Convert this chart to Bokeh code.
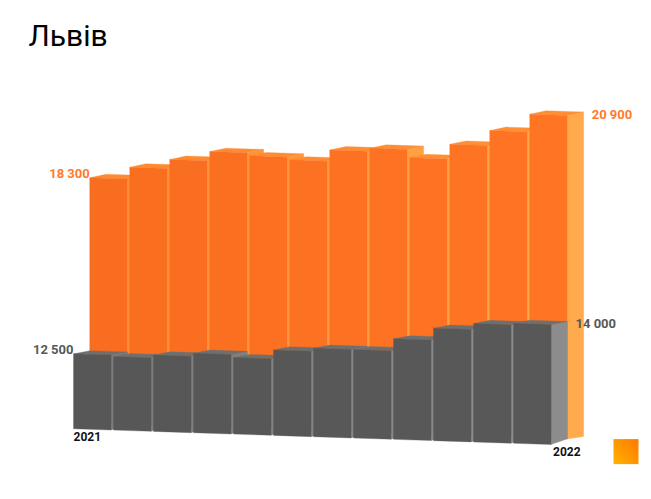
import numpy as np
from bokeh.core.properties import value
from bokeh.embed import file_html
from bokeh.models import ColumnDataSource, Label
from bokeh.plotting import figure
from bokeh.resources import INLINE

# monthly values, 2021 -> 2022
orange_values = [18300, 18690, 18995, 19300, 19200, 19105, 19485, 19585, 19315, 19805, 20310, 20900]
grey_values = [12500, 12450, 12550, 12650, 12550, 12850, 12950, 12950, 13350, 13750, 13950, 14000]
year_labels = ["2021", "2022"]

# the fake 3d look: everything is sheared a bit along the floor
FLOOR = 10000
SKEW = 44
BAR_W = 0.94
DEPTH = 0.41
ORANGE_DX = 0.405
ORANGE_DY = 90


def fmt(v):
    return f"{v:,}".replace(",", " ")


def mix(a, b, t):
    a = [int(a[i:i + 2], 16) for i in (1, 3, 5)]
    b = [int(b[i:i + 2], 16) for i in (1, 3, 5)]
    return "#%02x%02x%02x" % tuple(round(u + (v - u) * t) for u, v in zip(a, b))


def bars(values, x_off, y_off, lift, up_top, up_bottom, front, side, top):
    """Faces of each bar, painted left to right so later bars cover the side of earlier ones."""
    xs, ys, colors = [], [], []
    n = len(values)
    for i, v in enumerate(values):
        x0 = i + x_off
        x1 = x0 + BAR_W
        t = i / (n - 1)
        y_top = lambda x: v + y_off - SKEW * x
        y_bot = lambda x: FLOOR + y_off + lift - SKEW * x
        # side
        xs.append([x1, x1 + DEPTH, x1 + DEPTH, x1])
        ys.append([y_top(x1), y_top(x1) + up_top, y_bot(x1) + up_bottom, y_bot(x1)])
        colors.append(mix(side[0], side[1], t))
        # top
        xs.append([x0, x0 + DEPTH, x1 + DEPTH, x1])
        ys.append([y_top(x0), y_top(x0) + up_top, y_top(x1) + up_top, y_top(x1)])
        colors.append(mix(top[0], top[1], t))
        # front
        xs.append([x0, x1, x1, x0])
        ys.append([y_top(x0), y_top(x1), y_bot(x1), y_bot(x0)])
        colors.append(mix(front[0], front[1], t))
    return ColumnDataSource(dict(xs=xs, ys=ys, color=colors))


p = figure(frame_width=635, frame_height=462, x_range=(-1.625, 14.25), y_range=(8610, 24010),
           output_backend="svg", toolbar_location=None, tools="",
           x_axis_location=None, y_axis_location=None,
           min_border_left=8, min_border_right=0, min_border_top=8, min_border_bottom=0)
p.grid.visible = False
p.outline_line_color = None

# heading sits inside the frame, a Title would not go high enough
p.add_layout(Label(x=-1.125, y=23110, text="Львів", text_baseline="middle", text_font="Roboto",
                   text_font_size="30px", text_color="#000000"))

orange = bars(orange_values, ORANGE_DX, ORANGE_DY, 110, 115, 90,
              ("#f96d20", "#ff7524"), ("#ff8c2e", "#ffab4d"), ("#ff8a30", "#ff8f35"))
grey = bars(grey_values, 0, 0, 0, 105, 190,
            ("#575757", "#585858"), ("#7c7c7c", "#8c8c8c"), ("#6f6f6f", "#6f6f6f"))
p.patches("xs", "ys", fill_color="color", line_color="color", line_width=0.3, source=orange)
p.patches("xs", "ys", fill_color="color", line_color="color", line_width=0.3, source=grey)

# end labels
last = len(orange_values) - 1
p.text(x=[ORANGE_DX, last + ORANGE_DX + BAR_W + DEPTH],
       y=[orange_values[0] + ORANGE_DY - SKEW * ORANGE_DX, orange_values[-1] + ORANGE_DY - SKEW * (last + ORANGE_DX)],
       text=[fmt(orange_values[0]), fmt(orange_values[-1])],
       x_offset=[0, 8], y_offset=[-4, 0], text_align=["right", "left"], text_baseline="middle",
       text_font=value("Roboto"), text_font_style="bold", text_font_size="13px", text_color="#ff7a2a")
p.text(x=[0, last + BAR_W + DEPTH],
       y=[grey_values[0], grey_values[-1] - SKEW * last],
       text=[fmt(grey_values[0]), fmt(grey_values[-1])],
       x_offset=[0, 8], y_offset=[-4, 0], text_align=["right", "left"], text_baseline="middle",
       text_font=value("Roboto"), text_font_style="bold", text_font_size="13px", text_color="#585858")
p.text(x=[0, last + BAR_W], y=[FLOOR, FLOOR - SKEW * last], text=year_labels,
       x_offset=[0, 2], y_offset=[8, 8], text_align="left", text_baseline="middle",
       text_font=value("Roboto"), text_font_style="bold", text_font_size="12px", text_color="#111111")

# little gradient swatch bottom right
u = np.linspace(0, 1, 25)
gx, gy = np.meshgrid(u, u)
g = (gx + gy) / 2
img = np.zeros((25, 25), dtype=np.uint32)
view = img.view(dtype=np.uint8).reshape((25, 25, 4))
view[:, :, 0] = 255
view[:, :, 1] = (178 - 56 * g).astype(np.uint8)
view[:, :, 2] = 0
view[:, :, 3] = 255
p.image_rgba(image=[img], x=13.5, y=8823, dw=0.625, dh=833)

open("out.html", "w").write(file_html(p, INLINE))
